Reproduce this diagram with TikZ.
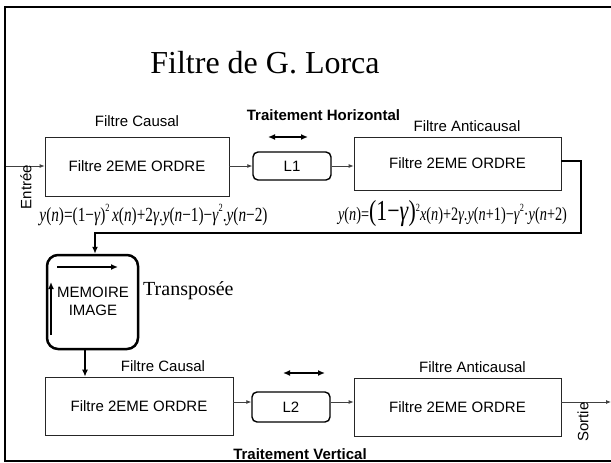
\documentclass[tikz,border=0pt]{standalone}
\usepackage{fontspec}
\usepackage{graphicx}
\setmainfont{Liberation Sans}
\newfontfamily\tnr{Liberation Serif}
\usetikzlibrary{arrows.meta}
\newcommand{\supt}{\raisebox{1.0ex}{\fontsize{11}{11}\selectfont 2}}
\begin{document}
\begin{tikzpicture}[x=1pt,y=-1pt,
  box/.style={draw=black!85, line width=0.8pt, fill=white, inner sep=0pt, font=\fontsize{15}{18}\selectfont},
  lbox/.style={draw=black, line width=1.4pt, rounded corners=5pt, fill=white, inner sep=0pt, font=\fontsize{15}{18}\selectfont},
  lbl/.style={font=\fontsize{15}{18}\selectfont, inner sep=0pt, anchor=base},
  blbl/.style={font=\fontsize{15}{18}\selectfont\bfseries, inner sep=0pt, anchor=base},
  conn/.style={draw=black!75, line width=0.8pt, -{Latex[length=5pt,width=4pt]}},
  darr/.style={line width=1.5pt, {Latex[length=7pt,width=6pt]}-{Latex[length=7pt,width=6pt]}},
  frame/.style={line width=2.5pt},
]
\useasboundingbox (0,0) rectangle (611,463);

% title
\node[font=\tnr\fontsize{32}{36}\selectfont, inner sep=0pt, anchor=base] (title) at (265,73) {Filtre de G. Lorca};

% horizontal processing
\node[box, minimum width=184pt, minimum height=59pt] (c1) at (137,166.5) {Filtre 2EME ORDRE};
\node[lbl] (c1l) at (137,126) {Filtre Causal};
\node[lbox, minimum width=78pt, minimum height=28pt] (L1) at (292,166) {L1};
\node[box, minimum width=207pt, minimum height=53pt] (a1) at (457.5,163.5) {Filtre 2EME ORDRE};
\node[lbl] (a1l) at (467,131) {Filtre Anticausal};
\node[blbl] (th) at (323.5,120) {Traitement Horizontal};
\coordinate (dh1) at (268,137);
\coordinate (dh2) at (308,137);
\draw[darr] (dh1) -- (dh2);

\coordinate (in) at (5,166);
\draw[conn] (in) -- (c1.west |- in);
\node[lbl, anchor=center, rotate=90] (entree) at (26,187) {Entrée};
\draw[conn] (c1.east |- L1.west) -- (L1.west);
\draw[conn] (L1.east) -- (a1.west |- L1.east);

% equations
\node[inner sep=0pt, anchor=base] (eq1) at (153.5,221) {\tnr\fontsize{20}{22}\selectfont\resizebox{228pt}{\height}{\textit{y}(\textit{n})=(1−\textit{γ})\supt\,\textit{x}(\textit{n})+2\textit{γ}.\textit{y}(\textit{n}−1)−\textit{γ}\supt.\textit{y}(\textit{n}−2)}};
\node[inner sep=0pt, anchor=base] (eq2) at (452.5,220) {\tnr\fontsize{19}{22}\selectfont\resizebox{229pt}{\height}{\textit{y}(\textit{n})={\fontsize{29}{30}\selectfont(1−\textit{γ})}\supt\textit{x}(\textit{n})+2\textit{γ}.\textit{y}(\textit{n}+1)−\textit{γ}\supt·\textit{y}(\textit{n}+2)}};

% memory
\node[draw, line width=2.5pt, rounded corners=11pt, minimum width=91pt, minimum height=94pt, inner sep=0pt] (mem) at (92.5,302) {};
\node[font=\fontsize{15}{18}\selectfont, align=center, inner sep=0pt] (memt) at (93,301) {MEMOIRE\\IMAGE};
\coordinate (mh1) at (57,267);
\coordinate (mh2) at (118,267);
\draw[line width=1.6pt, -{Latex[length=7pt,width=6pt]}] (mh1) -- (mh2);
\coordinate (mv1) at (51,335);
\coordinate (mv2) at (51,282);
\draw[line width=1.6pt, -{Latex[length=7pt,width=6pt]}] (mv1) -- (mv2);
\node[font=\tnr\fontsize{20}{24}\selectfont, inner sep=0pt, anchor=base west] (transp) at (143,295) {Transposée};

% feedback from a1 to memory
\coordinate (f1) at (581,161);
\coordinate (f2) at (581,233);
\coordinate (f3) at (95,233);
\draw[line width=1.3pt, -{Latex[length=7pt,width=6pt]}] (a1.east |- f1) -- (f1) -- (f2) -- (f3) -- (f3 |- mem.north);

% vertical processing
\node[box, minimum width=188pt, minimum height=58pt] (c2) at (139,406) {Filtre 2EME ORDRE};
\node[lbl] (c2l) at (163,371) {Filtre Causal};
\coordinate (m1) at (85,349);
\draw[line width=1.3pt, -{Latex[length=7pt,width=6pt]}] (m1) -- (m1 |- c2.north);
\node[lbox, minimum width=78pt, minimum height=30pt] (L2) at (291,407) {L2};
\node[box, minimum width=207pt, minimum height=58pt] (a2) at (457.5,407) {Filtre 2EME ORDRE};
\node[lbl] (a2l) at (472.5,372) {Filtre Anticausal};
\coordinate (dv1) at (283,373);
\coordinate (dv2) at (325,373);
\draw[darr] (dv1) -- (dv2);
\coordinate (r2) at (0,402);
\draw[conn] (c2.east |- r2) -- (L2.west |- r2);
\draw[conn] (L2.east |- r2) -- (a2.west |- r2);
\coordinate (out) at (611,402);
\draw[conn] (a2.east |- out) -- (out);
\node[lbl, anchor=center, rotate=90] (sortie) at (583,422) {Sortie};
\node[blbl] (tv) at (300,459.5) {Traitement Vertical};

% slide frame
\draw[frame] (611,7) -- (5,7) -- (5,461) -- (611,461);
\end{tikzpicture}
\end{document}
